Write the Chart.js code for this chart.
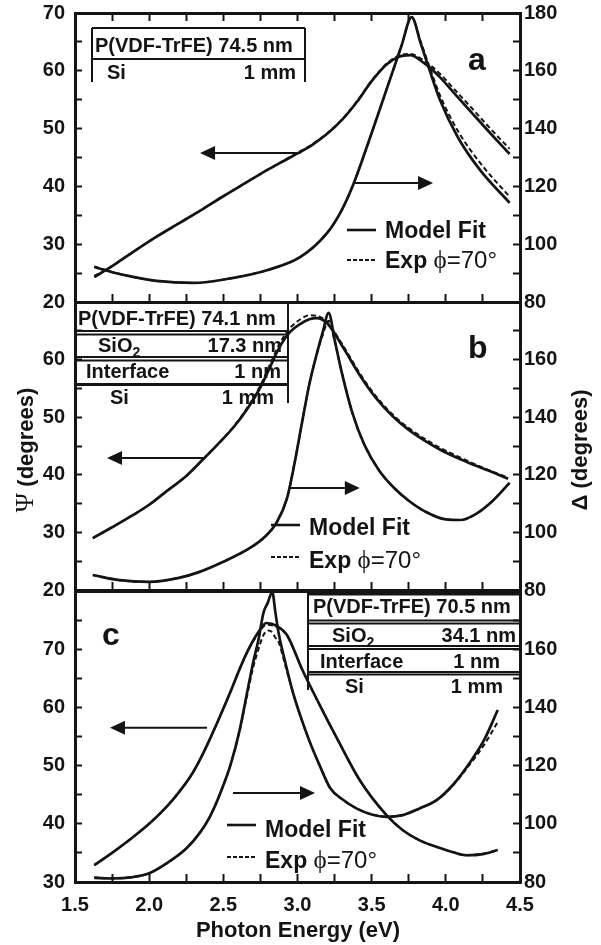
<!DOCTYPE html>
<html><head><meta charset="utf-8">
<script src="https://cdn.jsdelivr.net/npm/chart.js@4.4.1/dist/chart.umd.min.js"></script>
<style>
html,body{margin:0;padding:0;background:#fff;}
#wrap{position:relative;width:601px;height:945px;background:#fff;}
canvas{position:absolute;left:0;top:0;}
</style></head><body>
<div id="wrap">
<canvas id="ca" width="601" height="945"></canvas>
<canvas id="cb" width="601" height="945"></canvas>
<canvas id="cc" width="601" height="945"></canvas>
</div>
<script>
// ---------- data (photon energy in eV, Psi / Delta in degrees) ----------
// panel a
const psiA_E   = [1.63,1.75,1.9,2.05,2.2,2.35,2.5,2.65,2.8,2.95,3.1,3.2,3.3,3.4,3.5,3.6,3.68,3.76,3.85,3.96,4.05,4.18,4.3,4.43];
const psiA_fit = [24.3,26.2,28.8,31.3,33.6,35.9,38.3,40.6,42.9,45.0,47.2,49.1,51.5,54.6,58.2,61.1,62.4,62.7,61.4,58.9,56.3,52.6,49.2,45.6];
const psiA_exp = [24.5,26.2,28.8,31.3,33.6,35.9,38.3,40.6,42.9,45.1,47.3,49.2,51.6,54.7,58.3,61.2,62.6,62.9,61.8,59.5,57.0,53.4,50.0,46.5];
const dltA_E   = [1.63,1.75,1.9,2.05,2.3,2.55,2.8,3.02,3.2,3.3,3.38,3.5,3.6,3.7,3.77,3.83,3.89,3.96,4.08,4.23,4.43];
const dltA_fit = [92.1,90.3,88.6,87.3,86.6,88.2,91.1,95.6,103.9,112.0,121.2,138.5,153.5,168.5,178.6,169.6,160.3,150.0,137.1,125.7,114.3];
const dltA_exp = [92.3,90.4,88.6,87.3,86.6,88.2,91.1,95.6,103.9,112.0,121.2,138.5,153.5,168.5,178.4,170.2,161.3,151.6,139.3,128.2,116.4];
// panel b
const psiB_E   = [1.62,1.75,1.89,2.0,2.12,2.25,2.36,2.47,2.57,2.66,2.75,2.82,2.88,2.95,3.02,3.08,3.13,3.2,3.31,3.42,3.53,3.64,3.75,3.86,3.96,4.08,4.19,4.3,4.42];
const psiB_fit = [29.0,30.9,33.0,34.8,37.2,39.8,42.6,45.5,48.3,51.4,55.2,59.0,62.2,64.8,66.2,67.0,67.2,66.3,62.0,57.3,53.3,50.2,47.8,45.9,44.4,42.9,41.7,40.6,39.3];
const psiB_exp = [29.0,30.9,33.0,34.8,37.2,39.8,42.6,45.5,48.4,51.6,55.5,59.5,62.8,65.5,67.0,67.7,67.6,66.5,62.3,57.6,53.6,50.5,48.1,46.2,44.7,43.2,41.9,40.7,39.5];
const dltB_E   = [1.62,1.8,2.0,2.2,2.34,2.5,2.68,2.78,2.86,2.93,2.98,3.03,3.08,3.13,3.17,3.21,3.25,3.29,3.37,3.45,3.55,3.65,3.75,3.87,4.0,4.1,4.19,4.3,4.43];
const dltB_fit = [85.2,83.4,82.8,84.2,86.3,89.8,94.6,98.5,103.5,112.0,124.0,138.0,151.5,162.0,169.5,176.2,167.0,157.4,141.5,130.5,121.5,115.5,111.0,107.0,104.5,104.3,106.0,110.2,117.2];
const dltB_exp = [85.2,83.4,82.8,84.2,86.3,89.8,94.6,98.5,103.5,112.0,124.0,138.0,151.5,162.0,168.5,173.5,166.5,157.4,141.5,130.5,121.5,115.5,111.0,107.0,104.5,104.3,106.0,110.2,117.2];
// panel c
const psiC_E   = [1.63,1.75,1.89,2.0,2.12,2.2,2.28,2.34,2.41,2.48,2.55,2.61,2.67,2.73,2.79,2.86,2.93,3.03,3.15,3.27,3.42,3.6,3.71,3.82,3.94,4.05,4.14,4.25,4.35];
const psiC_fit = [32.9,35.0,37.7,40.0,43.0,45.4,48.2,50.9,54.6,58.6,62.8,66.6,70.0,72.7,74.5,74.0,72.4,66.6,60.4,54.5,47.5,41.5,38.9,37.2,36.0,35.1,34.6,34.8,35.5];
const psiC_exp = [32.9,35.0,37.7,40.0,43.0,45.4,48.2,50.9,54.6,58.6,62.8,66.6,69.9,72.5,74.2,73.8,72.3,66.6,60.4,54.5,47.5,41.5,38.9,37.2,36.0,35.1,34.6,34.9,35.4];
const dltC_E   = [1.63,1.75,1.89,2.0,2.12,2.25,2.34,2.41,2.48,2.55,2.61,2.66,2.7,2.74,2.77,2.8,2.83,2.85,2.87,2.92,2.97,3.02,3.08,3.15,3.22,3.3,3.4,3.5,3.6,3.71,3.82,3.94,4.05,4.16,4.26,4.35];
const dltC_fit = [81.4,81.2,81.7,83.0,86.5,91.5,96.8,102.5,110.6,120.5,132.2,145.0,155.2,164.0,172.4,176.0,179.7,173.0,166.3,155.0,145.0,137.0,128.5,120.0,112.3,108.5,105.2,103.2,102.4,103.0,105.2,108.2,113.5,120.9,129.0,139.1];
const dltC_exp = [81.6,81.3,81.7,83.0,86.5,91.5,96.8,102.5,110.6,120.5,132.0,144.0,153.5,160.5,164.8,166.4,165.8,164.0,162.8,154.0,145.0,137.0,128.5,120.0,112.3,108.5,105.2,103.2,102.4,103.0,105.2,108.2,113.3,120.3,127.3,135.0];
// axis ranges
const xRange = [1.5, 4.5];
const deltaRange = [80, 180];
const psiRanges = {a:[20,70], b:[20,70], c:[30,80]};
// arrows (data units): [fromE, tipE, value]
const arrowsA = {psi:[3.02,2.343,45.8], dlt:[3.38,3.914,121.2]};
const arrowsB = {psi:[2.363,1.716,42.9], dlt:[2.94,3.42,115.4]};
const arrowsC = {psi:[2.39,1.736,56.5], dlt:[2.565,3.118,110.6]};
// layer tables
const layersA = [['P(VDF-TrFE)','74.5 nm'],['Si','1 mm']];
const layersB = [['P(VDF-TrFE)','74.1 nm'],['SiO2','17.3 nm'],['Interface','1 nm'],['Si','1 mm']];
const layersC = [['P(VDF-TrFE)','70.5 nm'],['SiO2','34.1 nm'],['Interface','1 nm'],['Si','1 mm']];

// ---------- drawing helpers ----------
const INK = '#141414';
const SANS = '"Liberation Sans", Arial, Helvetica, sans-serif';
const SERIF = '"Liberation Serif", "Times New Roman", "DejaVu Serif", serif';
function pts(E, V){ return E.map((e,i)=>({x:e, y:V[i]})); }

function line(ctx, x1,y1,x2,y2,w){ ctx.save(); ctx.strokeStyle=INK; ctx.lineWidth=w||2; ctx.beginPath(); ctx.moveTo(x1,y1); ctx.lineTo(x2,y2); ctx.stroke(); ctx.restore(); }
function txt(ctx, s, x, y, size, align, font){ ctx.save(); ctx.fillStyle=INK; ctx.font=(font||('bold '+size+'px '+SANS)); ctx.textAlign=align||'left'; ctx.textBaseline='alphabetic'; ctx.fillText(s,x,y); ctx.restore(); }
function layerName(ctx, s, x, y){
  if (s === 'SiO2'){
    txt(ctx,'SiO',x,y,20);
    ctx.save(); ctx.font='bold 20px '+SANS; const w=ctx.measureText('SiO').width; ctx.restore();
    txt(ctx,'2',x+w,y+5,14);
  } else txt(ctx,s,x,y,20);
}
function arrow(chart, spec, axis){
  const ctx=chart.ctx, xs=chart.scales.x, ys=chart.scales[axis];
  const x1=xs.getPixelForValue(spec[0]), x2=xs.getPixelForValue(spec[1]), y=ys.getPixelForValue(spec[2]);
  const dir=Math.sign(x2-x1), L=15, H=7;
  ctx.save(); ctx.strokeStyle=INK; ctx.fillStyle=INK; ctx.lineWidth=2;
  ctx.beginPath(); ctx.moveTo(x1,y); ctx.lineTo(x2-dir*L,y); ctx.stroke();
  ctx.beginPath(); ctx.moveTo(x2,y); ctx.lineTo(x2-dir*L,y-H); ctx.lineTo(x2-dir*L,y+H); ctx.closePath(); ctx.fill();
  ctx.restore();
}
function legend(ctx, x0, yFit, bFit, yExp, bExp){
  line(ctx, x0, yFit, x0+29, yFit, 2.6);
  ctx.save(); ctx.strokeStyle=INK; ctx.lineWidth=2; ctx.setLineDash([4,2]); ctx.beginPath(); ctx.moveTo(x0,yExp); ctx.lineTo(x0+29,yExp); ctx.stroke(); ctx.restore();
  txt(ctx,'Model Fit',x0+38,bFit,23);
  txt(ctx,'Exp',x0+38,bExp,23);
  ctx.save(); ctx.font='bold 23px '+SANS; const w=ctx.measureText('Exp ').width;
  ctx.font='25px '+SERIF; const wphi=ctx.measureText('\u03D5').width; ctx.restore();
  txt(ctx,'\u03D5',x0+38+w,bExp,0,'left','25px '+SERIF);
  txt(ctx,'=70\u00B0',x0+38+w+wphi,bExp,0,'left','24px '+SANS);
}

function drawA(chart){
  const ctx=chart.ctx;
  line(ctx,92,28,305,28); line(ctx,92,59,305,59); line(ctx,92,28,92,82); line(ctx,305,28,305,82);
  txt(ctx, layersA[0][0]+' '+layersA[0][1], 95, 52, 20);
  layerName(ctx, layersA[1][0], 107, 79); txt(ctx, layersA[1][1], 296, 79, 20, 'right');
  txt(ctx,'a',468,70,32);
  legend(ctx,347,230,238,260,268);
  arrow(chart, arrowsA.psi, 'yL'); arrow(chart, arrowsA.dlt, 'yR');
}
function drawB(chart){
  const ctx=chart.ctx;
  [331,334.5,357,360.5].forEach(y=>line(ctx,76,y,288,y,2));
  line(ctx,76,384.5,288,384.5,3);
  line(ctx,288,302,288,403,2);
  txt(ctx, layersB[0][0]+' '+layersB[0][1], 78, 325, 20);
  layerName(ctx, layersB[1][0], 98, 352); txt(ctx, layersB[1][1], 282, 352, 20, 'right');
  layerName(ctx, layersB[2][0], 86, 378); txt(ctx, layersB[2][1], 281, 378, 20, 'right');
  layerName(ctx, layersB[3][0], 110, 404); txt(ctx, layersB[3][1], 274, 404, 20, 'right');
  txt(ctx,'b',468,358,32);
  legend(ctx,271,525,535,557,568);
  arrow(chart, arrowsB.psi, 'yL'); arrow(chart, arrowsB.dlt, 'yR');
}
function drawC(chart){
  const ctx=chart.ctx;
  line(ctx,308,594,520,594,3);
  [620.5,623.5,646,649,672].forEach(y=>line(ctx,308,y,520,y,2));
  line(ctx,308,674.5,520,674.5,2);
  line(ctx,308,593,308,690,2);
  txt(ctx, layersC[0][0]+' '+layersC[0][1], 313, 613, 20);
  layerName(ctx, layersC[1][0], 332, 642); txt(ctx, layersC[1][1], 516, 642, 20, 'right');
  layerName(ctx, layersC[2][0], 320, 668); txt(ctx, layersC[2][1], 500, 668, 20, 'right');
  layerName(ctx, layersC[3][0], 345, 693); txt(ctx, layersC[3][1], 503, 693, 20, 'right');
  txt(ctx,'c',102,645,32);
  legend(ctx,227,825,837,857,868);
  arrow(chart, arrowsC.psi, 'yL'); arrow(chart, arrowsC.dlt, 'yR');
  // axis titles
  txt(ctx,'Photon Energy (eV)',298,937,22,'center');
  ctx.save(); ctx.translate(33,450); ctx.rotate(-Math.PI/2);
  ctx.font='26px '+SERIF; const wp=ctx.measureText('\u03A8 ').width;
  ctx.font='bold 22px '+SANS; const wd=ctx.measureText('(degrees)').width;
  let s=-(wp+wd)/2; ctx.fillStyle=INK;
  ctx.font='26px '+SERIF; ctx.fillText('\u03A8',s,0);
  ctx.font='bold 22px '+SANS; ctx.fillText('(degrees)',s+wp,0);
  ctx.restore();
  ctx.save(); ctx.translate(587,450); ctx.rotate(-Math.PI/2);
  ctx.font='bold 22px '+SANS; ctx.textAlign='center'; ctx.fillStyle=INK; ctx.fillText('\u0394 (degrees)',0,0);
  ctx.restore();
}

function makeChart(p){
  const ser = [
    [p.psiE, p.psiFit, 'yL', false], [p.dltE, p.dltFit, 'yR', false],
    [p.psiE, p.psiExp, 'yL', true], [p.dltE, p.dltExp, 'yR', true]
  ];
  const datasets = ser.map(s=>({
    data: pts(s[0], s[1]), yAxisID: s[2], xAxisID: 'x',
    borderColor: INK, borderWidth: s[3]?2:2.7, borderDash: s[3]?[5,3]:[],
    pointRadius: 0, fill: false, cubicInterpolationMode: 'monotone'
  }));
  const tickFont = {family: SANS, size: 20, weight: 'bold'};
  const grid = {drawOnChartArea:false, drawTicks:true, tickLength:-8, tickWidth:2, tickColor:INK};
  const border = {display:true, width:3, color:INK};
  const xH = p.showX ? 945 - p.bottom : 0;
  const noPad = s => { s.paddingTop = 0; s.paddingBottom = 0; };
  new Chart(document.getElementById(p.id), {
    type: 'line',
    data: {datasets},
    options: {
      responsive:false, animation:false, devicePixelRatio:1,
      layout:{autoPadding:false, padding:{top:p.top, bottom:945-p.bottom-xH, left:0, right:0}},
      plugins:{legend:{display:false}, tooltip:{enabled:false}},
      scales:{
        x:{type:'linear', position:'bottom', min:xRange[0], max:xRange[1],
           afterFit:s=>{s.height=xH; s.paddingLeft=0; s.paddingRight=0;},
           ticks:{stepSize:0.25, autoSkip:false, maxRotation:0, padding:19, color:INK, font:tickFont,
             callback:v=> (p.showX && Math.abs(v*2-Math.round(v*2))<1e-6) ? v.toFixed(1) : ''},
           grid, border},
        x2:{type:'linear', position:'top', min:xRange[0], max:xRange[1],
           afterFit:s=>{s.height=0; s.paddingLeft=0; s.paddingRight=0;},
           ticks:{stepSize:0.25, autoSkip:false, callback:()=>''},
           grid: Object.assign({}, grid, {display:p.topTicks}), border},
        yL:{type:'linear', position:'left', min:p.psiRange[0], max:p.psiRange[1],
           afterFit:s=>{s.width=75; noPad(s);},
           ticks:{stepSize:5, autoSkip:false, padding:17, color:INK, font:tickFont,
             callback:v=> (v%10===0 && !(p.hideTop && v===p.psiRange[1])) ? String(v) : ''},
           grid:Object.assign({}, grid, {tickLength:-7}), border},
        yR:{type:'linear', position:'right', min:deltaRange[0], max:deltaRange[1],
           afterFit:s=>{s.width=81; noPad(s);},
           ticks:{stepSize:10, autoSkip:false, padding:11, color:INK, font:tickFont,
             callback:v=> (v%20===0 && !(p.hideTop && v===deltaRange[1])) ? String(v) : ''},
           grid:Object.assign({}, grid, {tickLength:-7}), border}
      }
    },
    plugins:[{id:'deco_'+p.id, afterDraw:(chart)=>p.draw(chart)}]
  });
}

makeChart({id:'ca', top:13, bottom:302, psiRange:psiRanges.a, hideTop:false, showX:false, topTicks:true,
  psiE:psiA_E, psiFit:psiA_fit, psiExp:psiA_exp, dltE:dltA_E, dltFit:dltA_fit, dltExp:dltA_exp, draw:drawA});
makeChart({id:'cb', top:302, bottom:590, psiRange:psiRanges.b, hideTop:true, showX:false, topTicks:false,
  psiE:psiB_E, psiFit:psiB_fit, psiExp:psiB_exp, dltE:dltB_E, dltFit:dltB_fit, dltExp:dltB_exp, draw:drawB});
makeChart({id:'cc', top:591, bottom:882, psiRange:psiRanges.c, hideTop:true, showX:true, topTicks:false,
  psiE:psiC_E, psiFit:psiC_fit, psiExp:psiC_exp, dltE:dltC_E, dltFit:dltC_fit, dltExp:dltC_exp, draw:drawC});
</script>
</body></html>
